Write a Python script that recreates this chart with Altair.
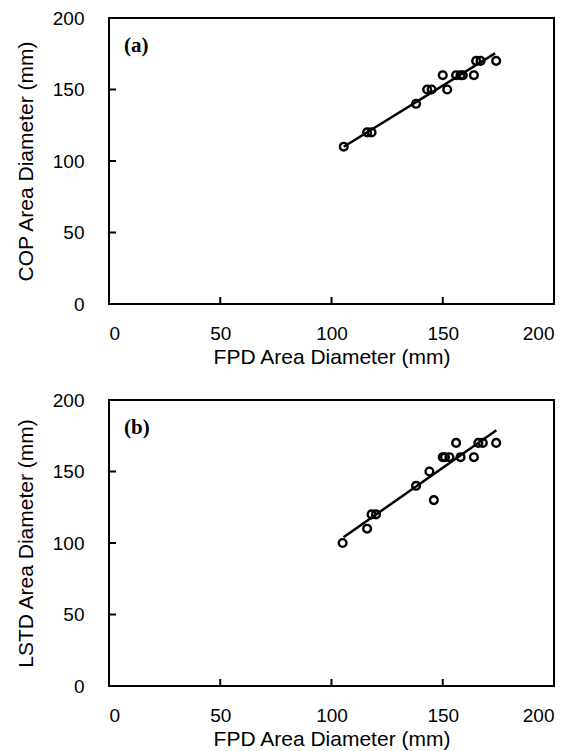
import altair as alt
import pandas as pd

# Panel (a): COP vs FPD
xa = [105.5, 116, 118, 138, 143, 145, 150, 152, 156, 158, 159, 164, 165, 167, 174]
ya = [110, 120, 120, 140, 150, 150, 160, 150, 160, 160, 160, 160, 170, 170, 170]
line_a_x = [105.5, 173.5]
line_a_y = [110, 175.3]

# Panel (b): LSTD vs FPD
xb = [105, 116, 118, 120, 138, 144, 146, 150, 151, 153, 156, 158, 164, 166, 168, 174]
yb = [100, 110, 120, 120, 140, 150, 130, 160, 160, 160, 170, 160, 160, 170, 170, 170]
line_b_x = [105.4, 174.1]
line_b_y = [104, 178.9]

tick_vals = [50, 100, 150]
axis_vals = [0, 50, 100, 150, 200]

W, H = 445, 286
FONT = "Liberation Sans"


def panel(px, py, lx, ly, ytitle, tag):
    pts = pd.DataFrame({"x": px, "y": py})
    ln = pd.DataFrame({"x": lx, "y": ly})
    tk = pd.DataFrame({"t": tick_vals})
    xscale = alt.Scale(domain=[0, 200], nice=False, zero=False)
    yscale = alt.Scale(domain=[0, 200], nice=False, zero=False)
    xaxis = alt.Axis(values=axis_vals, title="FPD Area Diameter (mm)",
                     labelPadding=20, titlePadding=3)
    yaxis = alt.Axis(values=axis_vals, title=ytitle, labelPadding=25,
                     titlePadding=16)
    base_pts = alt.Chart(pts).mark_point(
        shape="circle", filled=False, color="black", size=60, strokeWidth=2.4,
        opacity=1
    ).encode(
        x=alt.X("x:Q", scale=xscale, axis=xaxis),
        y=alt.Y("y:Q", scale=yscale, axis=yaxis),
    )
    line = alt.Chart(ln).mark_line(color="black", strokeWidth=2.5).encode(
        x=alt.X("x:Q", scale=xscale),
        y=alt.Y("y:Q", scale=yscale),
    )
    xt = alt.Chart(tk).mark_rule(color="black", strokeWidth=2).encode(
        x=alt.X("t:Q", scale=xscale), y=alt.value(H), y2=alt.value(H - 7)
    )
    yt = alt.Chart(tk).mark_rule(color="black", strokeWidth=2).encode(
        y=alt.Y("t:Q", scale=yscale), x=alt.value(0), x2=alt.value(7)
    )
    lab = alt.Chart(pd.DataFrame({"s": [tag]})).mark_text(
        font="Liberation Serif", fontWeight="bold", fontSize=21,
        align="left", baseline="middle", color="black"
    ).encode(text="s:N", x=alt.value(15), y=alt.value(28))
    return alt.layer(base_pts, line, xt, yt, lab).properties(width=W, height=H)


a = panel(xa, ya, line_a_x, line_a_y, "COP Area Diameter (mm)", "(a)")
b = panel(xb, yb, line_b_x, line_b_y, "LSTD Area Diameter (mm)", "(b)")

chart = alt.vconcat(a, b, spacing=22).properties(
    padding={"left": 6, "top": 0, "right": 0, "bottom": 0}
).configure_view(
    stroke="black", strokeWidth=2
).configure_axis(
    domain=False, ticks=False, grid=False,
    labelFont=FONT, labelFontSize=19, labelColor="black",
    titleFont=FONT, titleFontSize=21, titleFontWeight="normal", titleColor="black",
)

chart.save("out.html", embed_options={"renderer": "svg", "actions": False})
